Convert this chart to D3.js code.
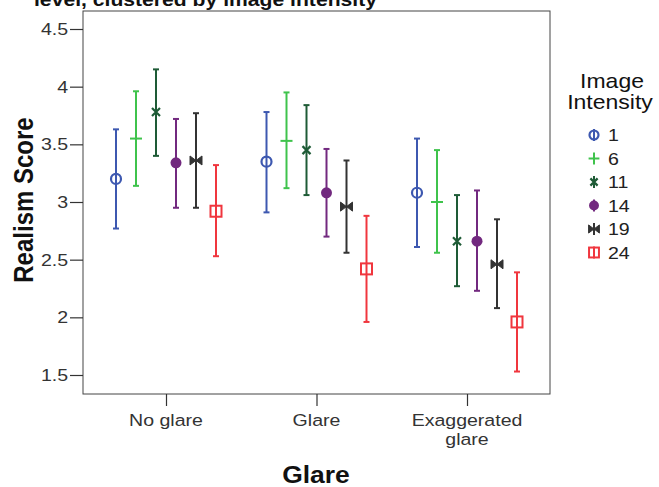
<!DOCTYPE html>
<html>
<head>
<meta charset="utf-8">
<script src="https://cdn.jsdelivr.net/npm/d3@7"></script>
<style>
  html, body { margin: 0; padding: 0; background: #fff; }
  svg { display: block; font-family: "Liberation Sans", Arial, sans-serif; }
</style>
</head>
<body>
<svg id="chart" width="659" height="487"></svg>
<script>
// ---- data ----
const categories = ["No glare", "Glare", "Exaggerated glare"];
const seriesNames = ["1", "6", "11", "14", "19", "24"];
const meanValues = {
  "1":  [3.20, 3.35, 3.08],
  "6":  [3.55, 3.53, 3.00],
  "11": [3.78, 3.45, 2.66],
  "14": [3.34, 3.08, 2.66],
  "19": [3.36, 2.96, 2.46],
  "24": [2.92, 2.42, 1.96]
};
const lowerValues = {
  "1":  [2.77, 2.91, 2.61],
  "6":  [3.14, 3.12, 2.56],
  "11": [3.40, 3.06, 2.27],
  "14": [2.95, 2.70, 2.23],
  "19": [2.95, 2.56, 2.08],
  "24": [2.53, 1.96, 1.53]
};
const upperValues = {
  "1":  [3.63, 3.78, 3.55],
  "6":  [3.96, 3.95, 3.45],
  "11": [4.15, 3.84, 3.06],
  "14": [3.72, 3.46, 3.10],
  "19": [3.77, 3.36, 2.85],
  "24": [3.32, 2.88, 2.39]
};
const yTicks = [1.5, 2, 2.5, 3, 3.5, 4, 4.5];
const titleText = "level, clustered by image intensity";
const xTitle = "Glare";
const yTitle = "Realism Score";
const legendTitle = ["Image", "Intensity"];

// ---- styles ----
const colors = {
  "1": "#3d58b0", "6": "#3fc34c", "11": "#1e5b36",
  "14": "#72297f", "19": "#333333", "24": "#f0363e"
};
const SX = 1.15; // horizontal text stretch

const svg = d3.select("#chart");
const frame = { left: 83, right: 550, top: 11, bottom: 394 };

const x = d3.scalePoint().domain(categories).range([166, 467]);
const xInner = d3.scaleBand().domain(seriesNames).range([-60, 60]);
const y = d3.scaleLinear().domain([1.5, 4.5]).range([375, 29]);

// title (cut off at top, as in the reference)
svg.append("text")
  .attr("x", 34).attr("y", 6)
  .attr("font-size", 18).attr("font-weight", "bold")
  .attr("fill", "#111")
  .attr("textLength", 343).attr("lengthAdjust", "spacingAndGlyphs")
  .text(titleText);

// frame
svg.append("rect")
  .attr("x", frame.left).attr("y", frame.top)
  .attr("width", frame.right - frame.left).attr("height", frame.bottom - frame.top)
  .attr("fill", "none").attr("stroke", "#444").attr("stroke-width", 1);

// y axis
const yAxis = svg.append("g")
  .attr("transform", `translate(${frame.left},0)`)
  .call(d3.axisLeft(y).tickValues(yTicks).tickSize(13).tickPadding(0).tickFormat(d => String(d)));
yAxis.select(".domain").remove();
yAxis.selectAll(".tick line").attr("stroke", "#333").attr("stroke-width", 1.2);
yAxis.selectAll(".tick text")
  .attr("font-size", 17).attr("font-family", "Liberation Sans, Arial, sans-serif")
  .attr("fill", "#333")
  .attr("transform", `scale(${SX},1)`);

// x axis
const xAxis = svg.append("g")
  .attr("transform", `translate(0,${frame.bottom})`)
  .call(d3.axisBottom(x).tickSize(12).tickFormat(""));
xAxis.select(".domain").remove();
xAxis.selectAll(".tick line").attr("stroke", "#333").attr("stroke-width", 1.2);

function wrapLabel(s) {
  return s.length > 12 ? [s.split(" ")[0], s.split(" ").slice(1).join(" ")] : [s];
}
categories.forEach(c => {
  const lines = wrapLabel(c);
  const t = svg.append("text")
    .attr("transform", `translate(${x(c)},426) scale(${SX},1)`)
    .attr("text-anchor", "middle").attr("font-size", 17).attr("fill", "#333");
  lines.forEach((l, i) => t.append("tspan").attr("x", 0).attr("y", i * 19).text(l));
});

// axis titles
svg.append("text")
  .attr("transform", `translate(316,483) scale(${SX},1)`)
  .attr("text-anchor", "middle").attr("font-size", 23).attr("font-weight", "bold")
  .attr("fill", "#111").text(xTitle);
svg.append("text")
  .attr("transform", `translate(33,200) rotate(-90) scale(1,${SX})`)
  .attr("text-anchor", "middle").attr("font-size", 24).attr("font-weight", "bold")
  .attr("fill", "#111").text(yTitle);

// marker drawing
function drawMarker(g, name, s) {
  const c = colors[name];
  if (name === "1") {
    g.append("circle").attr("r", 5 * s).attr("fill", "none").attr("stroke", c).attr("stroke-width", 2.2);
  } else if (name === "6") {
    g.append("line").attr("x1", -6 * s).attr("x2", 6 * s).attr("stroke", c).attr("stroke-width", 2);
  } else if (name === "11") {
    g.append("path").attr("d", `M${-4*s},${-4*s}L${4*s},${4*s}M${-4*s},${4*s}L${4*s},${-4*s}`)
      .attr("stroke", c).attr("stroke-width", 2.2).attr("fill", "none");
  } else if (name === "14") {
    g.append("circle").attr("r", 5.5 * s).attr("fill", c);
  } else if (name === "19") {
    g.append("path").attr("d", `M${-6*s},${-4.5*s}L0,0L${-6*s},${4.5*s}ZM${6*s},${-4.5*s}L0,0L${6*s},${4.5*s}Z`)
      .attr("fill", c).attr("stroke", c).attr("stroke-width", 1);
  } else if (name === "24") {
    g.append("rect").attr("x", -5.5 * s).attr("y", -5.5 * s).attr("width", 11 * s).attr("height", 11 * s)
      .attr("fill", "none").attr("stroke", c).attr("stroke-width", 2);
  }
}

// error bars
const plot = svg.append("g");
seriesNames.forEach(name => {
  const c = colors[name];
  categories.forEach((cat, i) => {
    const cx = x(cat) + xInner(name) + xInner.bandwidth() / 2;
    const g = plot.append("g");
    g.append("line").attr("x1", cx).attr("x2", cx)
      .attr("y1", y(lowerValues[name][i])).attr("y2", y(upperValues[name][i]))
      .attr("stroke", c).attr("stroke-width", 2);
    [lowerValues[name][i], upperValues[name][i]].forEach(v => {
      g.append("line").attr("x1", cx - 3).attr("x2", cx + 3)
        .attr("y1", y(v)).attr("y2", y(v)).attr("stroke", c).attr("stroke-width", 2);
    });
    const m = g.append("g").attr("transform", `translate(${cx},${y(meanValues[name][i])})`);
    drawMarker(m, name, 1);
  });
});

// legend
const lg = svg.append("g");
lg.append("text").attr("transform", `translate(612,88) scale(${SX},1)`)
  .attr("text-anchor", "middle").attr("font-size", 20).attr("fill", "#111").text(legendTitle[0]);
lg.append("text").attr("transform", `translate(610,109) scale(${SX},1)`)
  .attr("text-anchor", "middle").attr("font-size", 20).attr("fill", "#111").text(legendTitle[1]);
seriesNames.forEach((name, i) => {
  const ry = 135 + i * 23.5;
  const g = lg.append("g").attr("transform", `translate(594,${ry})`);
  g.append("line").attr("y1", -6).attr("y2", 6).attr("stroke", colors[name]).attr("stroke-width", 2);
  drawMarker(g, name, 0.9);
  lg.append("text").attr("transform", `translate(608,${ry + 6}) scale(${SX},1)`)
    .attr("font-size", 17).attr("fill", "#222").text(name);
});
</script>
</body>
</html>
